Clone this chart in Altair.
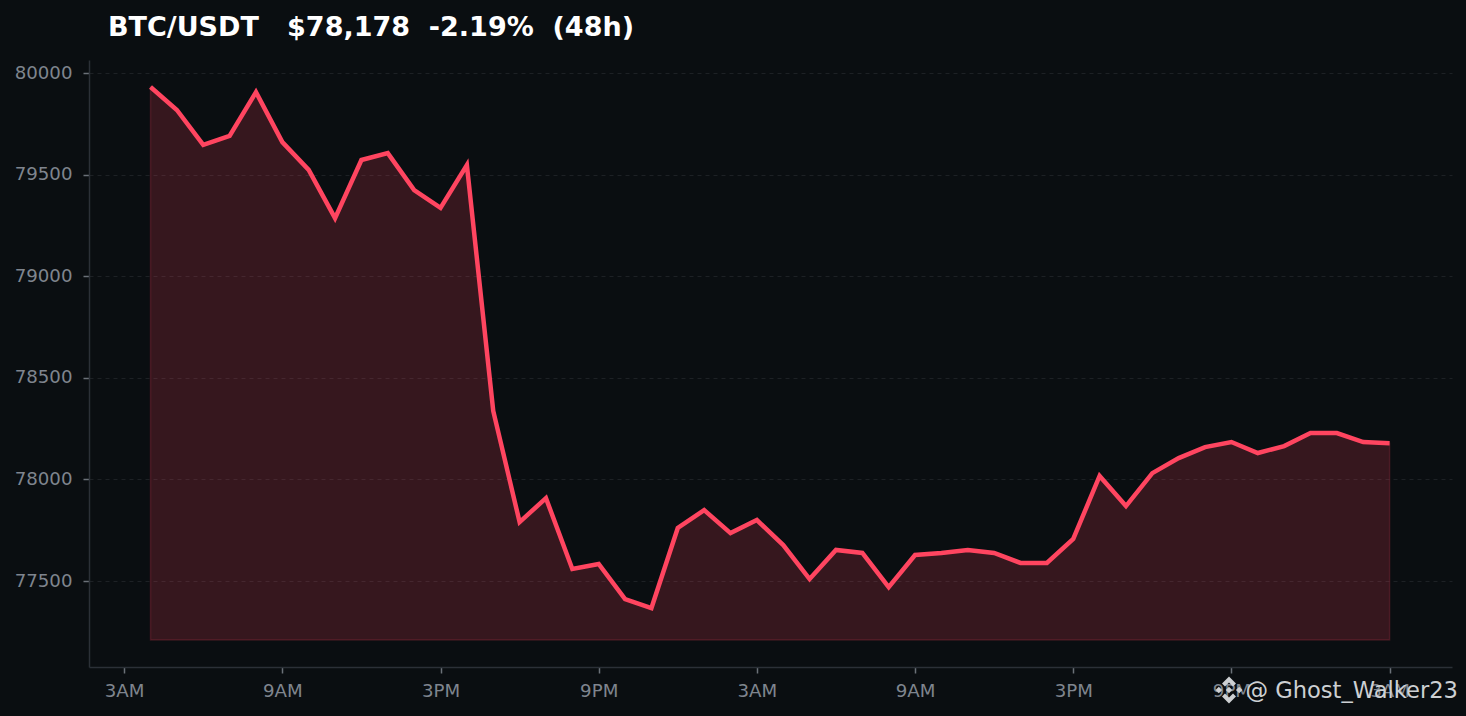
import altair as alt
import pandas as pd

prices = [79931, 79818, 79646, 79690, 79906, 79660, 79523, 79286, 79572, 79606, 79424, 79336,
          79547, 78337, 77790, 77908, 77559, 77584, 77411, 77367, 77761, 77849, 77736, 77800,
          77677, 77510, 77653, 77638, 77470, 77628, 77638, 77653, 77638, 77589, 77589, 77707,
          78017, 77869, 78031, 78105, 78159, 78184, 78130, 78164, 78228, 78228, 78184, 78178]
base_price = 77210
times = pd.date_range("2025-01-01 04:00", periods=len(prices), freq="h")
tick_times = [t.strftime("%Y-%m-%dT%H:%M:%S") for t in pd.date_range("2025-01-01 03:00", periods=9, freq="6h")]
y_ticks = [77500, 78000, 78500, 79000, 79500, 80000]
x_domain = ["2025-01-01T01:40:00", "2025-01-03T05:22:00"]
y_domain = [77077, 80064]
title_text = "BTC/USDT\u00a0\u00a0\u00a0$78,178\u00a0\u00a0-2.19%\u00a0\u00a0(48h)"
watermark = "@ Ghost_Walker23"

BG = "#0a0e11"
RED = "#ff4560"
FONT = "DejaVu Sans"
ICON = ("M0,-1 L0.52,-0.48 L0.3,-0.26 L0,-0.56 L-0.3,-0.26 L-0.52,-0.48 Z "
        "M0,1 L0.52,0.48 L0.3,0.26 L0,0.56 L-0.3,0.26 L-0.52,0.48 Z "
        "M-1,0 L-0.76,-0.24 L-0.52,0 L-0.76,0.24 Z "
        "M1,0 L0.76,-0.24 L0.52,0 L0.76,0.24 Z "
        "M0,-0.24 L0.24,0 L0,0.24 L-0.24,0 Z")

df = pd.DataFrame({"time": times.strftime("%Y-%m-%dT%H:%M:%S"), "price": prices, "base": base_price})

x = alt.X("time:T",
          scale=alt.Scale(domain=x_domain),
          axis=alt.Axis(values=tick_times, format="%-I%p", title=None, grid=False,
                        domainColor="#2b3037", domainWidth=1.5,
                        tickColor="#6b7178", tickSize=6, tickWidth=1.5,
                        labelColor="#7f858e", labelFont=FONT, labelFontSize=18.2,
                        labelPadding=9, labelFlush=False, labelOverlap=False))
y = alt.Y("price:Q",
          scale=alt.Scale(domain=y_domain, nice=False, zero=False),
          axis=alt.Axis(values=y_ticks, format="d", title=None, grid=True,
                        gridColor="#1d2125", gridDash=[4, 4], gridWidth=1,
                        domainColor="#2b3037", domainWidth=1.5,
                        tickColor="#6b7178", tickSize=6, tickWidth=1.5,
                        labelColor="#7f858e", labelFont=FONT, labelFontSize=18.2,
                        labelPadding=11, labelOverlap=False))

area = alt.Chart(df).mark_area(color=RED, fillOpacity=0.18, stroke=RED, strokeOpacity=0.18, strokeWidth=1.5).encode(
    x=x, y=y, y2="base:Q")
line = alt.Chart(df).mark_line(color=RED, strokeWidth=4.5, strokeJoin="miter", strokeCap="butt").encode(x=x, y=y)

mark_df = pd.DataFrame({"label": [watermark]})
wm_text = alt.Chart(mark_df).mark_text(
    font=FONT, fontSize=22.6, color="#cdd0d3", align="right", baseline="middle"
).encode(x=alt.value(1369), y=alt.value(631), text="label:N")
wm_icon = alt.Chart(mark_df).mark_point(
    shape=ICON, filled=True, color="#cdd0d3", opacity=1, size=720
).encode(x=alt.value(1140), y=alt.value(630))

chart = (area + line + wm_text + wm_icon).properties(
    width=1363, height=607,
    background=BG,
    padding={"left": 81, "top": 52, "right": 6, "bottom": 41},
    autosize=alt.AutoSizeParams(type="none"),
    title=alt.TitleParams(title_text, anchor="start", font=FONT, fontSize=27, fontWeight="bold",
                          color="#ffffff", offset=18, dx=19, frame="group"),
).configure_view(stroke=None)

chart.save("out.html", embed_options={"renderer": "svg", "actions": False,
                                      "defaultStyle": "html,body{background:#0a0e11;}"})
